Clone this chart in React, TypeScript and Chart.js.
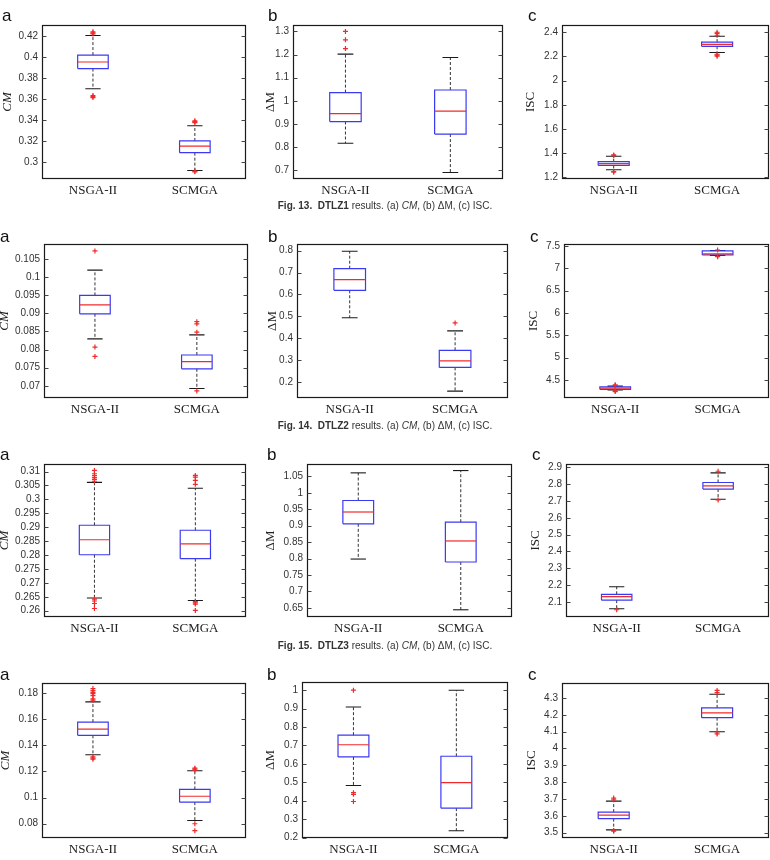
import React, { useEffect, useRef } from "react";
import { Chart, registerables } from "chart.js";
Chart.register(...registerables);

// ---------- data ----------
const categories = ["NSGA-II", "SCMGA"];
// box statistics: [lower whisker, Q1, median, Q3, upper whisker]

// Fig. 13 DTLZ1
const dtlz1CmNsga = [0.37, 0.3893, 0.3956, 0.4022, 0.421];
const dtlz1CmScmga = [0.2918, 0.3088, 0.315, 0.32, 0.3346];
const dtlz1CmNsgaOut = [0.4225, 0.4235, 0.4245, 0.3635, 0.3625, 0.3615];
const dtlz1CmScmgaOut = [0.3375, 0.3385, 0.3393, 0.2912, 0.2905];
const dtlz1CmTicks = [0.3, 0.32, 0.34, 0.36, 0.38, 0.4, 0.42];

const dtlz1DmNsga = [0.8166, 0.9103, 0.9444, 1.0354, 1.2018];
const dtlz1DmScmga = [0.69, 0.856, 0.9556, 1.0467, 1.1876];
const dtlz1DmNsgaOut = [1.226, 1.264, 1.3];
const dtlz1DmScmgaOut: number[] = [];
const dtlz1DmTicks = [0.7, 0.8, 0.9, 1, 1.1, 1.2, 1.3];

const dtlz1IscNsga = [1.262, 1.298, 1.314, 1.33, 1.374];
const dtlz1IscScmga = [2.232, 2.2837, 2.3, 2.3186, 2.3675];
const dtlz1IscNsgaOut = [1.38, 1.385, 1.248, 1.242];
const dtlz1IscScmgaOut = [2.375, 2.39, 2.4, 2.218, 2.21, 2.202];
const dtlz1IscTicks = [1.2, 1.4, 1.6, 1.8, 2, 2.2, 2.4];

// Fig. 14 DTLZ2
const dtlz2CmNsga = [0.08296, 0.08986, 0.0923, 0.09494, 0.1019];
const dtlz2CmScmga = [0.06927, 0.0747, 0.0767, 0.0785, 0.08405];
const dtlz2CmNsgaOut = [0.1072, 0.0807, 0.0781];
const dtlz2CmScmgaOut = [0.0848, 0.0871, 0.0877, 0.0686];
const dtlz2CmTicks = [0.07, 0.075, 0.08, 0.085, 0.09, 0.095, 0.1, 0.105];

const dtlz2DmNsga = [0.494, 0.619, 0.668, 0.7175, 0.797];
const dtlz2DmScmga = [0.1595, 0.2675, 0.2975, 0.3455, 0.434];
const dtlz2DmNsgaOut: number[] = [];
const dtlz2DmScmgaOut = [0.47];
const dtlz2DmTicks = [0.2, 0.3, 0.4, 0.5, 0.6, 0.7, 0.8];

const dtlz2IscNsga = [4.275, 4.29, 4.315, 4.345, 4.36];
const dtlz2IscScmga = [7.285, 7.3, 7.323, 7.39, 7.4];
const dtlz2IscNsgaOut = [4.375, 4.39, 4.255, 4.24];
const dtlz2IscScmgaOut = [7.41, 7.27, 7.26];
const dtlz2IscTicks = [4.5, 5, 5.5, 6, 6.5, 7, 7.5];

// Fig. 15 DTLZ3
const dtlz3CmNsga = [0.2646, 0.2801, 0.2855, 0.2907, 0.3061];
const dtlz3CmScmga = [0.2637, 0.2787, 0.284, 0.2889, 0.304];
const dtlz3CmNsgaOut = [0.3065, 0.3072, 0.3078, 0.3085, 0.3092, 0.3104, 0.2642, 0.2635, 0.2626, 0.2608];
const dtlz3CmScmgaOut = [0.3054, 0.3068, 0.308, 0.3086, 0.2633, 0.2628, 0.2624, 0.2601];
const dtlz3CmTicks = [0.26, 0.265, 0.27, 0.275, 0.28, 0.285, 0.29, 0.295, 0.3, 0.305, 0.31];

const dtlz3DmNsga = [0.7985, 0.9057, 0.9418, 0.9769, 1.061];
const dtlz3DmScmga = [0.644, 0.7895, 0.8536, 0.9107, 1.068];
const dtlz3DmNsgaOut: number[] = [];
const dtlz3DmScmgaOut: number[] = [];
const dtlz3DmTicks = [0.65, 0.7, 0.75, 0.8, 0.85, 0.9, 0.95, 1, 1.05];

const dtlz3IscNsga = [2.059, 2.11, 2.131, 2.145, 2.19];
const dtlz3IscScmga = [2.71, 2.771, 2.79, 2.81, 2.867];
const dtlz3IscNsgaOut = [2.053];
const dtlz3IscScmgaOut = [2.877, 2.706];
const dtlz3IscTicks = [2.1, 2.2, 2.3, 2.4, 2.5, 2.6, 2.7, 2.8, 2.9];

// DTLZ4
const dtlz4CmNsga = [0.1327, 0.1476, 0.1524, 0.1577, 0.1732];
const dtlz4CmScmga = [0.0825, 0.0965, 0.101, 0.1063, 0.1205];
const dtlz4CmNsgaOut = [0.1745, 0.1755, 0.178, 0.1795, 0.1805, 0.1818, 0.1833, 0.1311, 0.1302, 0.1294];
const dtlz4CmScmgaOut = [0.121, 0.1218, 0.1225, 0.08, 0.0747];
const dtlz4CmTicks = [0.08, 0.1, 0.12, 0.14, 0.16, 0.18];

const dtlz4DmNsga = [0.483, 0.638, 0.704, 0.756, 0.909];
const dtlz4DmScmga = [0.237, 0.36, 0.499, 0.6417, 1.0];
const dtlz4DmNsgaOut = [1.0, 0.444, 0.435, 0.396];
const dtlz4DmScmgaOut: number[] = [];
const dtlz4DmTicks = [0.2, 0.3, 0.4, 0.5, 0.6, 0.7, 0.8, 0.9, 1];

const dtlz4IscNsga = [3.516, 3.583, 3.604, 3.622, 3.687];
const dtlz4IscScmga = [4.099, 4.183, 4.211, 4.241, 4.322];
const dtlz4IscNsgaOut = [3.695, 3.705, 3.508, 3.513];
const dtlz4IscScmgaOut = [4.332, 4.345, 4.092, 4.086];
const dtlz4IscTicks = [3.5, 3.6, 3.7, 3.8, 3.9, 4, 4.1, 4.2, 4.3];

const figNumbers = ["Fig. 13.", "Fig. 14.", "Fig. 15."];
const figProblems = ["DTLZ1", "DTLZ2", "DTLZ3"];

// ---------- layout ----------
type Panel = {
  title: string;
  italic: boolean;
  box: number[]; // left, top, right, bottom
  titleX: number;
  yMin: number;
  yMax: number;
  ticks: number[];
  stats: number[][];
  outliers: number[][];
};

const panels: Panel[] = [
  { title: "CM", italic: true, box: [42, 23, 248, 179], titleX: 8, yMin: 0.2836, yMax: 0.431, ticks: dtlz1CmTicks, stats: [dtlz1CmNsga, dtlz1CmScmga], outliers: [dtlz1CmNsgaOut, dtlz1CmScmgaOut] },
  { title: "ΔM", italic: false, box: [293, 23, 505, 179], titleX: 271, yMin: 0.6616, yMax: 1.328, ticks: dtlz1DmTicks, stats: [dtlz1DmNsga, dtlz1DmScmga], outliers: [dtlz1DmNsgaOut, dtlz1DmScmgaOut] },
  { title: "ISC", italic: false, box: [562, 23, 771, 179], titleX: 531, yMin: 1.186, yMax: 2.46, ticks: dtlz1IscTicks, stats: [dtlz1IscNsga, dtlz1IscScmga], outliers: [dtlz1IscNsgaOut, dtlz1IscScmgaOut] },

  { title: "CM", italic: true, box: [44, 242, 250, 398], titleX: 5, yMin: 0.06665, yMax: 0.1091, ticks: dtlz2CmTicks, stats: [dtlz2CmNsga, dtlz2CmScmga], outliers: [dtlz2CmNsgaOut, dtlz2CmScmgaOut] },
  { title: "ΔM", italic: false, box: [297, 242, 510, 398], titleX: 273, yMin: 0.128, yMax: 0.83, ticks: dtlz2DmTicks, stats: [dtlz2DmNsga, dtlz2DmScmga], outliers: [dtlz2DmNsgaOut, dtlz2DmScmgaOut] },
  { title: "ISC", italic: false, box: [564, 242, 771, 398], titleX: 534, yMin: 4.095, yMax: 7.544, ticks: dtlz2IscTicks, stats: [dtlz2IscNsga, dtlz2IscScmga], outliers: [dtlz2IscNsgaOut, dtlz2IscScmgaOut] },

  { title: "CM", italic: true, box: [44, 462, 248, 617], titleX: 5, yMin: 0.25775, yMax: 0.3127, ticks: dtlz3CmTicks, stats: [dtlz3CmNsga, dtlz3CmScmga], outliers: [dtlz3CmNsgaOut, dtlz3CmScmgaOut] },
  { title: "ΔM", italic: false, box: [307, 462, 512, 617], titleX: 271, yMin: 0.622, yMax: 1.088, ticks: dtlz3DmTicks, stats: [dtlz3DmNsga, dtlz3DmScmga], outliers: [dtlz3DmNsgaOut, dtlz3DmScmgaOut] },
  { title: "ISC", italic: false, box: [566, 462, 771, 617], titleX: 536, yMin: 2.01, yMax: 2.92, ticks: dtlz3IscTicks, stats: [dtlz3IscNsga, dtlz3IscScmga], outliers: [dtlz3IscNsgaOut, dtlz3IscScmgaOut] },

  { title: "CM", italic: true, box: [42, 681, 248, 838], titleX: 6, yMin: 0.0691, yMax: 0.1876, ticks: dtlz4CmTicks, stats: [dtlz4CmNsga, dtlz4CmScmga], outliers: [dtlz4CmNsgaOut, dtlz4CmScmgaOut] },
  { title: "ΔM", italic: false, box: [302, 680, 510, 838], titleX: 271, yMin: 0.198, yMax: 1.0446, ticks: dtlz4DmTicks, stats: [dtlz4DmNsga, dtlz4DmScmga], outliers: [dtlz4DmNsgaOut, dtlz4DmScmgaOut] },
  { title: "ISC", italic: false, box: [562, 681, 771, 838], titleX: 532, yMin: 3.468, yMax: 4.389, ticks: dtlz4IscTicks, stats: [dtlz4IscNsga, dtlz4IscScmga], outliers: [dtlz4IscNsgaOut, dtlz4IscScmgaOut] },
];

const letters = [
  { t: "a", x: 2, y: 7 }, { t: "b", x: 268, y: 7 }, { t: "c", x: 528, y: 7 },
  { t: "a", x: 0, y: 228 }, { t: "b", x: 268, y: 228 }, { t: "c", x: 530, y: 228 },
  { t: "a", x: 0, y: 446 }, { t: "b", x: 267, y: 446 }, { t: "c", x: 532, y: 446 },
  { t: "a", x: 0, y: 666 }, { t: "b", x: 267, y: 666 }, { t: "c", x: 528, y: 666 },
];
const captionY = [200, 420, 640];

const BLUE = "#3a3af2";
const RED = "#f02a2a";
const BLACK = "#1a1a1a";

const fmt = (v: number) => String(parseFloat(Number(v).toFixed(5)));

const framePlugin = {
  id: "frame",
  afterDraw(chart: any) {
    const { ctx, chartArea } = chart;
    const l = Math.round(chartArea.left) + 0.5;
    const t = Math.round(chartArea.top) + 0.5;
    const r = Math.round(chartArea.right) - 0.5;
    const b = Math.round(chartArea.bottom) - 0.5;
    ctx.save();
    ctx.strokeStyle = BLACK;
    ctx.lineWidth = 1.2;
    ctx.strokeRect(l, t, r - l, b - t);
    const ys = chart.scales.y;
    ctx.lineWidth = 1;
    ctx.strokeStyle = "#444";
    ys.ticks.forEach((tk: any) => {
      const y = Math.round(ys.getPixelForValue(tk.value)) + 0.5;
      ctx.beginPath();
      ctx.moveTo(l, y);
      ctx.lineTo(l + 4, y);
      ctx.moveTo(r, y);
      ctx.lineTo(r - 4, y);
      ctx.stroke();
    });
    ctx.restore();
  },
};

function BoxPanel({ p }: { p: Panel }) {
  const ref = useRef<HTMLCanvasElement>(null);
  const [bl, bt, br, bb] = p.box;
  const lh = 14;
  const canvasLeft = p.titleX - lh / 2;
  const axisW = bl - canvasLeft;
  const padTop = 8;
  const padRight = 3;
  const xAxisH = 24;
  const w = Math.round(axisW + (br - bl) + padRight);
  const h = Math.round(padTop + (bb - bt) + xAxisH);

  useEffect(() => {
    const halfBox = 0.15;
    const halfCap = 0.075;
    const datasets: any[] = [];
    const line = (pts: any[], color: string, dash: number[] = [], width = 1.2) => ({
      data: pts,
      showLine: true,
      borderColor: color,
      borderWidth: width,
      borderDash: dash,
      pointRadius: 0,
      tension: 0,
    });
    p.stats.forEach((s, i) => {
      const x = i + 1;
      const [lo, q1, med, q3, hi] = s;
      datasets.push({
        data: p.outliers[i].map((v) => ({ x, y: v })),
        showLine: false,
        pointStyle: "cross",
        pointRadius: 2.5,
        borderColor: RED,
        borderWidth: 1.2,
        backgroundColor: RED,
      });
      datasets.push(line([{ x: x - halfBox, y: med }, { x: x + halfBox, y: med }], RED));
      datasets.push(
        line(
          [
            { x: x - halfBox, y: q1 },
            { x: x + halfBox, y: q1 },
            { x: x + halfBox, y: q3 },
            { x: x - halfBox, y: q3 },
            { x: x - halfBox, y: q1 },
          ],
          BLUE
        )
      );
      datasets.push(line([{ x: x - halfCap, y: hi }, { x: x + halfCap, y: hi }], BLACK, [], 1.1));
      datasets.push(line([{ x: x - halfCap, y: lo }, { x: x + halfCap, y: lo }], BLACK, [], 1.1));
      datasets.push(line([{ x, y: q3 }, { x, y: hi }], "#333", [3, 2], 1));
      datasets.push(line([{ x, y: q1 }, { x, y: lo }], "#333", [3, 2], 1));
    });

    const chart = new Chart(ref.current as HTMLCanvasElement, {
      type: "scatter",
      data: { datasets },
      options: {
        animation: false,
        responsive: false,
        events: [],
        layout: { padding: { top: padTop, right: padRight, left: 0, bottom: 0 } },
        plugins: { legend: { display: false }, tooltip: { enabled: false } },
        scales: {
          x: {
            type: "linear",
            min: 0.5,
            max: 2.5,
            afterBuildTicks: (s: any) => {
              s.ticks = categories.map((_, k) => ({ value: k + 1 }));
            },
            ticks: {
              callback: (v: any) => categories[Math.round(v) - 1] ?? "",
              font: { family: "Liberation Serif", size: 13 },
              color: "#222",
              padding: 4,
              maxRotation: 0,
              autoSkip: false,
            },
            grid: { display: false, drawTicks: false },
            border: { display: false },
            afterFit: (s: any) => {
              s.height = xAxisH;
            },
          },
          y: {
            type: "linear",
            min: p.yMin,
            max: p.yMax,
            afterBuildTicks: (s: any) => {
              s.ticks = p.ticks.map((v) => ({ value: v }));
            },
            ticks: {
              callback: (v: any) => fmt(v),
              font: { family: "Liberation Sans", size: 10 },
              color: "#333",
              padding: 4,
              autoSkip: false,
            },
            grid: { display: false, drawTicks: false },
            border: { display: false },
            title: {
              display: true,
              text: p.title,
              font: { family: "Liberation Serif", size: 13, style: p.italic ? "italic" : "normal", lineHeight: lh / 13 },
              color: "#222",
              padding: 0,
            },
            afterFit: (s: any) => {
              s.width = axisW;
            },
          },
        },
      },
      plugins: [framePlugin],
    } as any);
    return () => chart.destroy();
  }, []);

  return (
    <canvas
      ref={ref}
      width={w}
      height={h}
      style={{ position: "absolute", left: canvasLeft, top: bt - padTop, width: w, height: h }}
    />
  );
}

export default function App() {
  return (
    <div
      style={{
        position: "fixed",
        left: 0,
        top: 0,
        width: 770,
        height: 860,
        overflow: "hidden",
        background: "#fff",
      }}
    >
      {panels.map((p, i) => (
        <BoxPanel key={i} p={p} />
      ))}
      {letters.map((l, i) => (
        <div
          key={"l" + i}
          style={{
            position: "absolute",
            left: l.x,
            top: l.y,
            font: '17px "Liberation Sans"',
            lineHeight: "17px",
            color: "#111",
          }}
        >
          {l.t}
        </div>
      ))}
      {captionY.map((y, i) => (
        <div
          key={"c" + i}
          style={{
            position: "absolute",
            left: 0,
            width: 770,
            top: y,
            textAlign: "center",
            font: '10px "Liberation Sans"',
            lineHeight: "12px",
            color: "#333",
            whiteSpace: "pre",
          }}
        >
          <b>{figNumbers[i]}</b>
          {"  "}
          <b>{figProblems[i]}</b>
          {" results. (a) "}
          <i>CM</i>
          {", (b) ΔM, (c) ISC."}
        </div>
      ))}
    </div>
  );
}
